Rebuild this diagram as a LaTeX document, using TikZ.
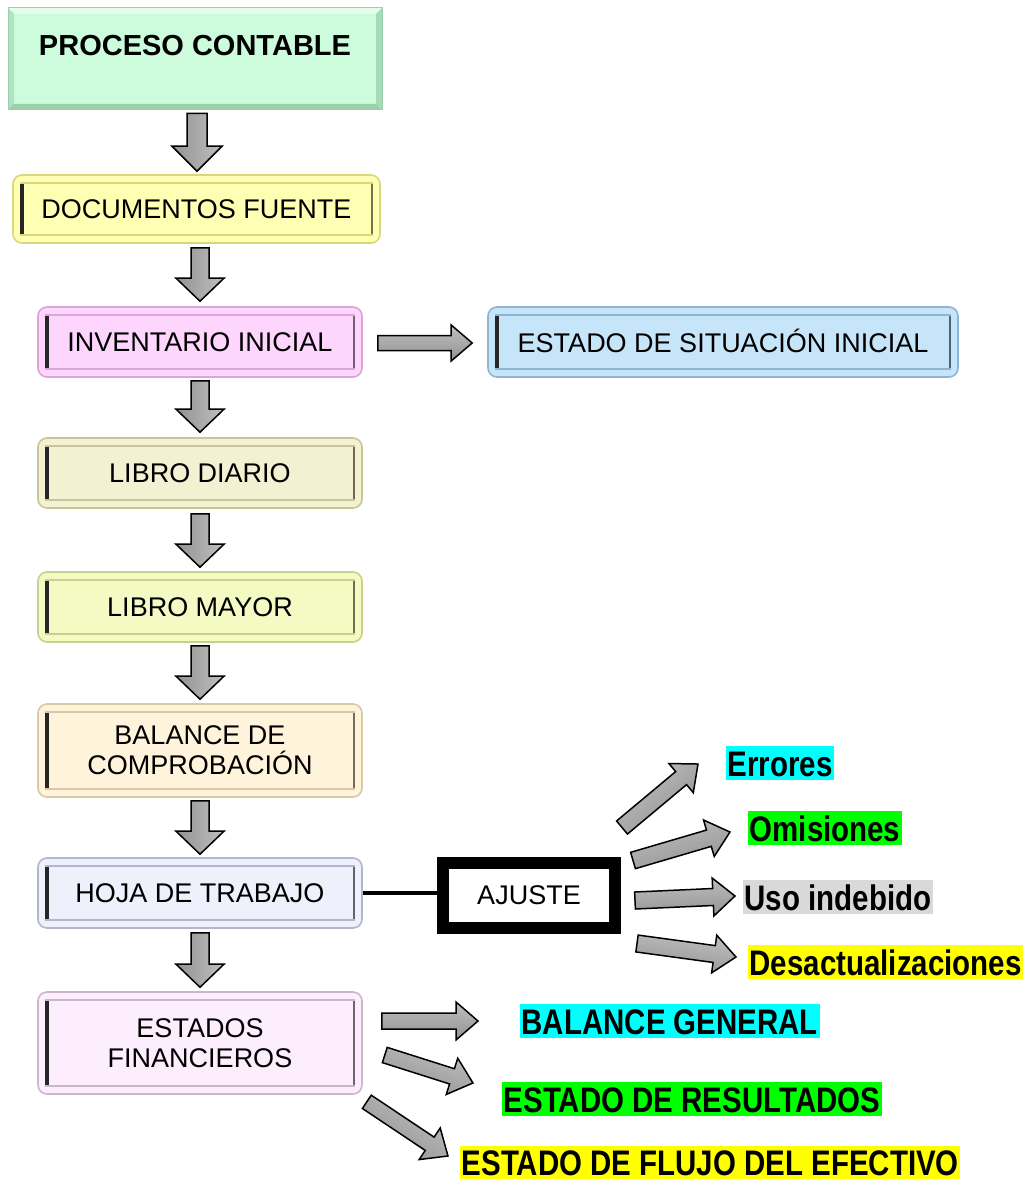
\documentclass[tikz,border=0pt]{standalone}
\usepackage{fontspec}
\setmainfont{Liberation Sans}
\newfontfamily\condbold[FakeStretch=0.83]{Liberation Sans}
\usetikzlibrary{calc}

% fills and edge tints of the stage boxes
\definecolor{procfill}{HTML}{CCFCDC}
\definecolor{procedge}{HTML}{9ACFAA}
\definecolor{docfill}{HTML}{FFFFB3}
\definecolor{docedge}{HTML}{D9D77A}
\definecolor{invfill}{HTML}{FDD5FD}
\definecolor{invedge}{HTML}{D8A6D8}
\definecolor{sitfill}{HTML}{C7E5F9}
\definecolor{sitedge}{HTML}{8DB6D4}
\definecolor{diafill}{HTML}{F4F0D2}
\definecolor{diaedge}{HTML}{C9C49A}
\definecolor{mayfill}{HTML}{F3FAC4}
\definecolor{mayedge}{HTML}{C8D08A}
\definecolor{balfill}{HTML}{FFF4DB}
\definecolor{baledge}{HTML}{D8C8A4}
\definecolor{hojafill}{HTML}{EEF1FB}
\definecolor{hojaedge}{HTML}{B0B6CC}
\definecolor{effill}{HTML}{FCEEFC}
\definecolor{efedge}{HTML}{CDB5CD}
% highlighter colours of the result labels
\definecolor{hlcyan}{HTML}{00FFFF}
\definecolor{hlgreen}{HTML}{00FF00}
\definecolor{hlgray}{HTML}{D9D9D9}
\definecolor{hlyellow}{HTML}{FFFF00}

% block arrow from #1 to #2: shaft half width #3, head half width #4, head length #5 (pt)
\newcommand\blockarrow[5]{%
  \path let \p1=(#1), \p2=(#2),
            \n1={atan2(\y2-\y1,\x2-\x1)}, \n2={veclen(\x2-\x1,\y2-\y1)} in
    \pgfextra{\xdef\baang{\n1}\xdef\bax{\x1}\xdef\bay{\y1}%
              \pgfmathsetmacro\banecktmp{\n2-#5}\xdef\baneck{\banecktmp}%
              \pgfmathsetmacro\balentmp{\n2}\xdef\balen{\balentmp}};
  \begin{scope}[shift={(\bax,\bay)}, rotate=\baang]
    \draw[arrowbody, shading angle=\baang] (0pt,#3pt) -- (\baneck pt,#3pt) -- (\baneck pt,#4pt)
      -- (\balen pt,0pt) -- (\baneck pt,-#4pt) -- (\baneck pt,-#3pt)
      -- (0pt,-#3pt) -- cycle;
  \end{scope}}

\tikzset{
  stagefont/.style={font=\fontsize{27}{30}\selectfont},
  stagebox/.style 2 args={stagefont, fill=#1, draw=#2, line width=1.6pt,
    rounded corners=9pt, minimum width=324pt, minimum height=70pt,
    align=center, inner sep=0pt,
    path picture={
      \draw[sharp corners, line width=1.4pt, draw=#2]
        ([shift={(8pt,-8pt)}]path picture bounding box.north west) rectangle
        ([shift={(-8pt,8pt)}]path picture bounding box.south east);
      \draw[sharp corners, line width=3.2pt, draw=black!85]
        ([shift={(9pt,-9pt)}]path picture bounding box.north west) --
        ([shift={(9pt,9pt)}]path picture bounding box.south west);
      \draw[sharp corners, line width=2pt, draw=#2!55!black]
        ([shift={(-8.5pt,-9pt)}]path picture bounding box.north east) --
        ([shift={(-8.5pt,9pt)}]path picture bounding box.south east);
    }},
  procbox/.style={fill=procfill, draw=procedge, line width=1pt,
    minimum width=374pt, minimum height=102pt, inner sep=0pt,
    font=\bfseries\fontsize{29}{33}\selectfont, text height=21pt, text depth=27pt,
    path picture={
      \fill[procfill!55!white]
        (path picture bounding box.north west) -- (path picture bounding box.north east)
        -- ([shift={(-6pt,-6pt)}]path picture bounding box.north east)
        -- ([shift={(6pt,-6pt)}]path picture bounding box.north west) -- cycle;
      \fill[procedge!55!procfill]
        (path picture bounding box.north west) -- (path picture bounding box.south west)
        -- ([shift={(6pt,6pt)}]path picture bounding box.south west)
        -- ([shift={(6pt,-6pt)}]path picture bounding box.north west) -- cycle;
      \fill[procedge]
        (path picture bounding box.south west) -- (path picture bounding box.south east)
        -- ([shift={(-6pt,6pt)}]path picture bounding box.south east)
        -- ([shift={(6pt,6pt)}]path picture bounding box.south west) -- cycle;
      \fill[procedge!75!procfill]
        (path picture bounding box.north east) -- (path picture bounding box.south east)
        -- ([shift={(-6pt,6pt)}]path picture bounding box.south east)
        -- ([shift={(-6pt,-6pt)}]path picture bounding box.north east) -- cycle;
    }},
  adjustbox/.style={draw=black, fill=white, line width=12pt, minimum width=172pt,
    minimum height=65pt, stagefont, inner sep=0pt},
  tag/.style={font=\condbold\bfseries\fontsize{35.5}{38}\selectfont, anchor=west,
    inner xsep=1.5pt, inner ysep=2pt, text height=28pt, text depth=2pt},
  arrowbody/.style={draw=black, line width=1.5pt, line join=miter,
    top color=gray!50, middle color=white, bottom color=gray!85},
  link/.style={line width=4pt, draw=black}
}

\begin{document}
\begin{tikzpicture}[x=1pt, y=-1pt]
\useasboundingbox (0,0) rectangle (1027,1182);

% main column of stages
\node[procbox] (pc) at (195,59) {PROCESO CONTABLE};
\node[stagebox={docfill}{docedge}, minimum width=367pt, minimum height=68pt] (doc) at (196.5,209) {DOCUMENTOS FUENTE};
\node[stagebox={invfill}{invedge}] (inv) at (200,342) {INVENTARIO INICIAL};
\node[stagebox={sitfill}{sitedge}, minimum width=470pt] (sit) at (723,342) {ESTADO DE SITUACIÓN INICIAL\vphantom{I}\raisebox{-3pt}{\vphantom{I}}};
\node[stagebox={diafill}{diaedge}] (dia) at (200,473) {LIBRO DIARIO};
\node[stagebox={mayfill}{mayedge}] (may) at (200,607) {LIBRO MAYOR};
\node[stagebox={balfill}{baledge}, minimum height=93pt] (bal) at (200,750.5) {BALANCE DE\\COMPROBACIÓN};
\node[stagebox={hojafill}{hojaedge}] (hoja) at (200,893) {HOJA DE TRABAJO};
\node[stagebox={effill}{efedge}, minimum height=102pt] (ef) at (200,1043) {ESTADOS\\FINANCIEROS};

% adjustment branch
\node[adjustbox] (aj) at (529,895.5) {AJUSTE};
\draw[link] (hoja.east) -- (hoja.east -| aj.west);

% result labels
\node[tag, fill=hlcyan] (err) at (726,763) {Errores};
\node[tag, fill=hlgreen] (omi) at (748,828) {Omisiones};
\node[tag, fill=hlgray] (uso) at (743,897) {Uso indebido};
\node[tag, fill=hlyellow] (des) at (748,962) {Desactualizaciones};
\node[tag, fill=hlcyan] (bg) at (520,1021) {BALANCE GENERAL};
\node[tag, fill=hlgreen] (er) at (502,1099) {ESTADO DE RESULTADOS};
\node[tag, fill=hlyellow, text depth=1pt] (efe) at (460,1162) {ESTADO DE FLUJO DEL EFECTIVO};

% downward flow
\blockarrow{$(pc.south)+(2,3)$}{$(doc.north)+(0.5,-3)$}{10}{25}{25}
\blockarrow{$(doc.south)+(3.5,4)$}{$(inv.north)+(0,-5)$}{9}{24}{23}
\blockarrow{$(inv.south)+(0,3)$}{$(dia.north)+(0,-5)$}{9}{24}{23}
\blockarrow{$(dia.south)+(0,5)$}{$(may.north)+(0,-4)$}{9}{24}{23}
\blockarrow{$(may.south)+(0,3)$}{$(bal.north)+(0,-4)$}{9}{24}{23}
\blockarrow{$(bal.south)+(0,3)$}{$(hoja.north)+(0,-3)$}{9}{24}{23}
\blockarrow{$(hoja.south)+(0,4)$}{$(ef.north)+(0,-4)$}{9}{24}{23}

% sideways flow
\blockarrow{$(inv.east)+(15,1)$}{$(sit.west)+(-15,1)$}{7.5}{18}{21}
\blockarrow{$(aj.east)+(1,-68)$}{$(err.west)+(-28,1)$}{8.5}{19}{22}
\blockarrow{$(aj.east)+(12,-35)$}{$(omi.west)+(-18,4)$}{8.5}{19}{22}
\blockarrow{$(aj.east)+(14,5)$}{$(uso.west)+(-8,-1)$}{8.5}{19}{22}
\blockarrow{$(aj.east)+(16,48)$}{$(des.west)+(-12,-5)$}{8.5}{19}{22}
\blockarrow{$(ef.east)+(19,-22)$}{$(bg.west)+(-42,0)$}{8}{19}{22}
\blockarrow{$(ef.east)+(22,12)$}{$(er.west)+(-29,-16)$}{8}{19}{22}
\blockarrow{$(ef.south east)+(4,7)$}{$(efe.west)+(-12,-6)$}{8}{19}{22}
\end{tikzpicture}
\end{document}
